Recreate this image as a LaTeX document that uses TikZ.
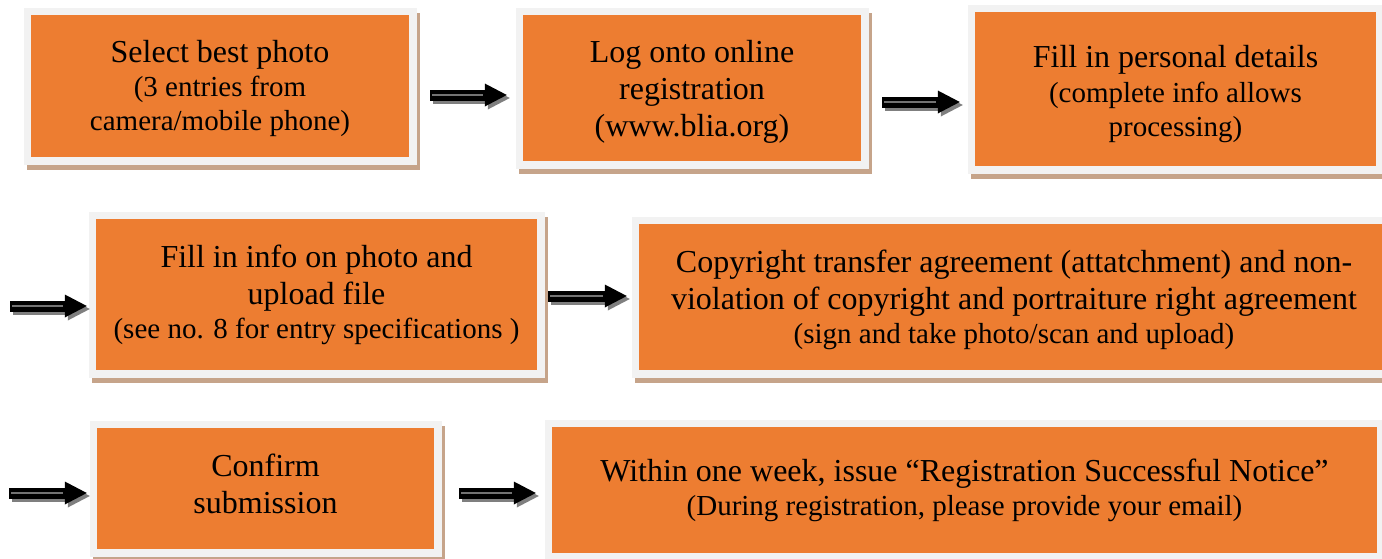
\documentclass[tikz,border=0pt]{standalone}
\usepackage{fontspec}
\setmainfont{Liberation Serif}
\usetikzlibrary{arrows.meta}
\definecolor{boxorange}{HTML}{ED7D31}
\definecolor{boxframe}{HTML}{F2F2F2}
\definecolor{shadowtan}{HTML}{C6A48A}
\definecolor{arrowshade}{HTML}{7F7F7F}
\newcommand{\subsz}{\fontsize{29}{33.5}\selectfont}
\tikzset{
	stepbox/.style={fill=boxorange, inner sep=0pt, align=center,
		font=\fontsize{32}{37}\selectfont,
		preaction={draw=shadowtan, fill=shadowtan, line width=15pt, transform canvas={shift={(3pt,-5pt)}}},
		preaction={draw=boxframe, line width=15pt}},
	flowarrow/.style={draw=black, line width=11pt, -{Triangle[length=22pt,width=23pt,line width=0pt]},
		preaction={draw=arrowshade, line width=11pt, -{Triangle[length=22pt,width=23pt,line width=0pt]}, transform canvas={shift={(3pt,-3pt)}}},
		postaction={draw=black!55, line width=2.5pt, -, shorten >=24pt, shorten <=2pt}}
}
\begin{document}
\begin{tikzpicture}[x=1pt, y=-1pt]
		\useasboundingbox (0,0) rectangle (1382,558);
		\node[stepbox, minimum width=378pt, minimum height=142pt] (sel) at (220,86)
			{\rule{0pt}{28pt}Select best photo\\[-3pt] {\subsz (3 entries from}\\[-3pt] {\subsz camera/mobile phone)}};
		\node[stepbox, minimum width=338pt, minimum height=146pt] (log) at (692,88)
			{\rule{0pt}{30pt}Log onto online\\ registration\\ (www.blia.org)};
		\node[stepbox, minimum width=401pt, minimum height=154pt] (pers) at (1175.5,89)
			{\rule{0pt}{32pt}Fill in personal details\\[-2pt] {\subsz (complete info allows}\\[-3pt] {\subsz processing)}};
		\node[stepbox, minimum width=441pt, minimum height=151pt] (upl) at (316.5,294.5)
			{Fill in info on photo and\\ upload file\\[-3pt] {\subsz (see no. 8 for entry specifications~)}};
		\node[stepbox, minimum width=750pt, minimum height=146pt] (copy) at (1014,297)
			{\rule{0pt}{28pt}Copyright transfer agreement (attatchment) and non-\\ violation of copyright and portraiture right agreement\\[-3pt] {\subsz (sign and take photo/scan and upload)}};
		\node[stepbox, minimum width=337pt, minimum height=121pt] (conf) at (265.5,488.5)
			{Confirm\\ submission\rule[-10pt]{0pt}{10pt}};
		\node[stepbox, minimum width=825pt, minimum height=126pt] (notice) at (964.5,490)
			{Within one week, issue “Registration Successful Notice”\\[-3pt] {\subsz (During registration, please provide your email)}};
		\coordinate (in2) at (10,306);
		\coordinate (in3) at (9,493);
		\draw[flowarrow] ([xshift=21pt,yshift=-9pt]sel.east) -- ([xshift=-16pt,yshift=-7pt]log.west);
		\draw[flowarrow] ([xshift=21pt,yshift=-14pt]log.east) -- ([xshift=-15pt,yshift=-13pt]pers.west);
		\draw[flowarrow] (in2) -- ([xshift=-9pt]upl.west |- in2);
		\draw[flowarrow] ([xshift=11pt,yshift=-1.5pt]upl.east) -- ([xshift=-12pt,yshift=1pt]copy.west);
		\draw[flowarrow] (in3) -- ([xshift=-10pt]conf.west |- in3);
		\draw[flowarrow] ([xshift=25pt,yshift=-4.5pt]conf.east) -- ([xshift=-16pt,yshift=-3pt]notice.west);
\end{tikzpicture}
\end{document}
